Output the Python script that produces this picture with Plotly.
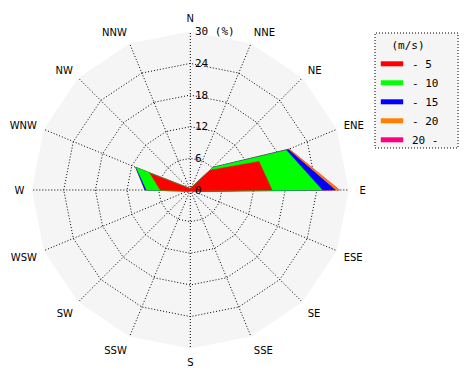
import numpy as np
import plotly.graph_objects as go

directions = ["N", "NNE", "NE", "ENE", "E", "ESE", "SE", "SSE",
              "S", "SSW", "SW", "WSW", "W", "WNW", "NW", "NNW"]
speed_classes = ["- 5", "- 10", "- 15", "- 20", "20 -"]
colors = ["#ff0000", "#00ff00", "#0000ff", "#ff8000", "#ff0080"]

# frequency (%) per speed class and direction
freq_0_5 = [0.3, 0.4, 5.3, 14.1, 15.5, 0.5, 0.2, 0.2, 0.2, 0.2, 0.3, 0.5, 5.7, 8.3, 0.5, 0.3]
freq_5_10 = [0.0, 0.1, 0.7, 5.6, 9.5, 0.1, 0.0, 0.0, 0.0, 0.0, 0.0, 0.1, 2.6, 2.8, 0.1, 0.0]
freq_10_15 = [0.0, 0.0, 0.1, 0.4, 2.5, 0.1, 0.0, 0.0, 0.0, 0.0, 0.0, 0.0, 0.3, 0.1, 0.0, 0.0]
freq_15_20 = [0.0, 0.0, 0.0, 0.2, 0.7, 0.0, 0.0, 0.0, 0.0, 0.0, 0.0, 0.0, 0.0, 0.0, 0.0, 0.0]
freq_20_up = [0.0, 0.0, 0.0, 0.0, 0.1, 0.0, 0.0, 0.0, 0.0, 0.0, 0.0, 0.0, 0.0, 0.0, 0.0, 0.0]

radial_ticks = [0, 6, 12, 18, 24, 30]
radial_ticktext = ["0", "6", "12", "18", "24", "30 (%)"]

# the E label sits a little further out in the reference
label_pad = {"E": 1}
direction_labels = ["\u00a0" * label_pad.get(d, 0) + d for d in directions]

series = [freq_0_5, freq_5_10, freq_10_15, freq_15_20, freq_20_up]
cum = np.cumsum(np.array(series), axis=0)

fig = go.Figure()
for i in reversed(range(len(series))):
    r = list(cum[i]) + [cum[i][0]]
    th = directions + [directions[0]]
    fig.add_trace(go.Scatterpolar(
        r=r, theta=th, mode="lines", fill="toself",
        fillcolor=colors[i], line=dict(color=colors[i], width=0.5),
        name=speed_classes[i], hoverinfo="skip", showlegend=False))

# legend keys
for i in range(len(series)):
    fig.add_trace(go.Scatterpolar(
        r=[None], theta=[None], mode="markers", name=speed_classes[i],
        marker=dict(symbol="line-ew", size=16, color=colors[i],
                    line=dict(color=colors[i], width=5)),
        hoverinfo="skip", showlegend=True))

W, H = 462, 372
cx, cy, half = 182.3, 182, 158.5
mono = "DejaVu Sans Mono"
dots = "1px,2px"
fig.update_layout(
    width=W, height=H,
    margin=dict(l=0, r=0, t=0, b=0),
    paper_bgcolor="white",
    showlegend=True,
    legend=dict(
        x=364 / W, y=1 - 27 / H, xanchor="left", yanchor="top",
        traceorder="normal",
        bgcolor="rgba(0,0,0,0)",
        title=dict(text="(m/s)", side="top center",
                   font=dict(family=mono, size=11, color="black")),
        font=dict(family=mono, size=11, color="black"),
        itemwidth=30,
    ),
    polar=dict(
        domain=dict(x=[(cx - half) / W, (cx + half) / W],
                    y=[(H - cy - half) / H, (H - cy + half) / H]),
        bgcolor="#f5f5f5",
        gridshape="linear",
        radialaxis=dict(
            range=[0, 30.05], tickvals=radial_ticks, ticktext=radial_ticktext,
            angle=90, tickangle=90, showline=False,
            ticks="outside", ticklen=2, tickcolor="rgba(0,0,0,0)",
            gridcolor="black", griddash=dots, gridwidth=1,
            tickfont=dict(family=mono, size=11, color="black"),
            side="clockwise",
        ),
        angularaxis=dict(
            type="category", categoryarray=directions,
            tickvals=directions, ticktext=direction_labels,
            direction="clockwise", rotation=90,
            showline=False, ticks="outside", ticklen=5,
            tickcolor="rgba(0,0,0,0)",
            gridcolor="black", griddash=dots, gridwidth=1,
            tickfont=dict(family="DejaVu Sans", size=10, color="black"),
        ),
    ),
    shapes=[dict(type="rect", xref="paper", yref="paper", layer="below",
                 x0=367 / W, x1=450 / W, y0=1 - 140 / H, y1=1 - 25 / H,
                 fillcolor="#f5f5f5",
                 line=dict(color="black", width=1, dash=dots))],
)
fig.write_html("out.html")
